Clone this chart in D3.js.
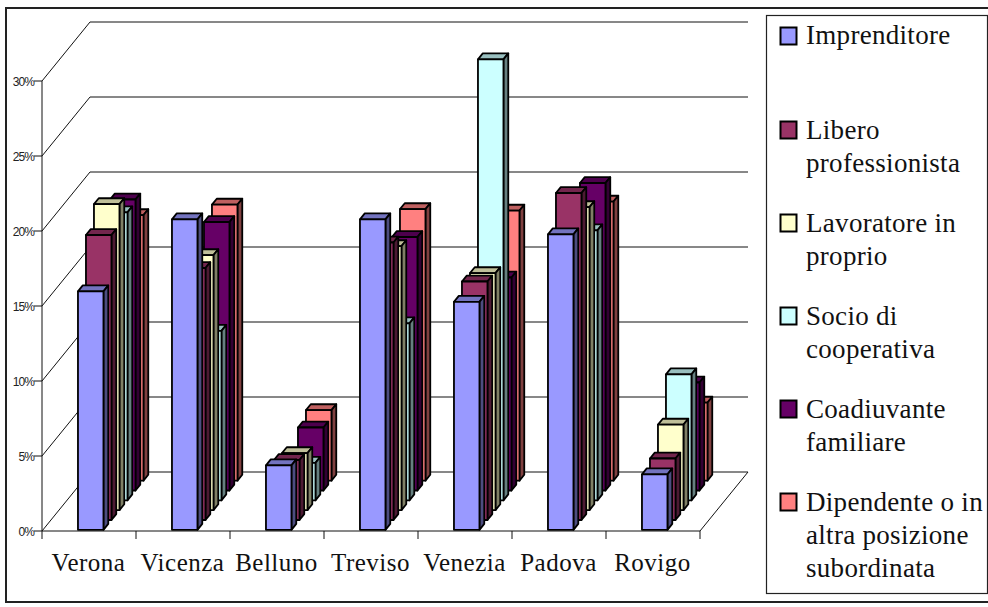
<!DOCTYPE html>
<html>
<head>
<meta charset="utf-8">
<script src="https://cdn.jsdelivr.net/npm/d3@7"></script>
<style>
  html, body { margin: 0; padding: 0; background: #fff; }
  svg { display: block; }
  text { font-family: "Liberation Serif", serif; fill: #111; }
  .tick-label { font-family: "Liberation Sans", sans-serif; font-size: 12px; letter-spacing: -0.9px; fill: #222; }
  .cat-label { font-size: 25px; letter-spacing: 0.5px; }
  .legend-label { font-size: 27px; letter-spacing: 0.3px; }
</style>
</head>
<body>
<svg id="chart" width="988" height="607"></svg>
<script>
// Province categories and employment-position series (percentages)
const categories = ["Verona", "Vicenza", "Belluno", "Treviso", "Venezia", "Padova", "Rovigo"];
const imprenditore = [15.9, 20.7, 4.3, 20.7, 15.2, 19.7, 3.7];
const libero       = [19.0, 16.8, 4.0, 18.5, 15.9, 21.8, 4.1];
const lavoratore   = [20.4, 17.0, 3.8, 17.6, 15.8, 20.2, 5.7];
const socio        = [19.2, 11.3, 2.5, 11.8, 29.4, 18.0, 8.4];
const coadiuvante  = [19.4, 17.9, 4.2, 16.9, 14.2, 20.5, 7.2];
const dipendente   = [17.7, 18.4, 4.7, 18.1, 18.0, 18.6, 5.2];
const seriesValues = [imprenditore, libero, lavoratore, socio, coadiuvante, dipendente];
const seriesColors = ["#9999FF", "#993366", "#FFFFCC", "#CCFFFF", "#660066", "#FF8080"];
const percentTicks = [0, 5, 10, 15, 20, 25, 30];
const legendLines = [
  ["Imprenditore"], ["Libero", "professionista"], ["Lavoratore in", "proprio"],
  ["Socio di", "cooperativa"], ["Coadiuvante", "familiare"], ["Dipendente o in", "altra posizione", "subordinata"]
];

const svg = d3.select("#chart");

// Outer frame; its right edge runs past the page
svg.append("rect").attr("x", 6).attr("y", 8).attr("width", 990).attr("height", 594)
  .attr("fill", "#fff").attr("stroke", "#222").attr("stroke-width", 2);

// Oblique projection: front plane from the scales, plus a depth fraction z in [0, 1]
const x = d3.scaleBand().domain(categories).range([42, 700]);
const y = d3.scaleLinear().domain([0, 30]).range([531, 81]);
const depthX = d3.scaleLinear().domain([0, 1]).range([0, 48]);
const depthY = d3.scaleLinear().domain([0, 1]).range([0, -59]);
const px = (xv, z) => xv + depthX(z);
const py = (v, z) => y(v) + depthY(z);
const pt = (xv, v, z) => [px(xv, z), py(v, z)];
const line = d3.line();
const xLeft = x.range()[0], xRight = x.range()[1];

// Back-wall gridlines and the diagonals running along the left wall
const grid = svg.append("g");
percentTicks.forEach(t => {
  grid.append("path").attr("d", line([pt(xLeft, t, 0), pt(xLeft, t, 1), pt(xRight, t, 1)]))
    .attr("fill", "none").attr("stroke", "#111").attr("stroke-width", 1);
});
grid.append("path").attr("d", line([pt(xRight, 0, 1), pt(xRight, 0, 0)]))
  .attr("fill", "none").attr("stroke", "#111").attr("stroke-width", 1);

// Bars: drawn back to front, category by category from the left
const barOffset = 35 / x.bandwidth();
const barWidth = 25.5;
const zStep = 1 / seriesValues.length;
const zStart = 0.02, zDepth = 0.1;

function shade(color, k) {
  const c = d3.rgb(color);
  return d3.rgb(c.r * k, c.g * k, c.b * k).formatHex();
}

categories.forEach((cat, ci) => {
  const g = svg.append("g");
  const x0 = x(cat) + x.bandwidth() * barOffset;
  for (let s = seriesValues.length - 1; s >= 0; s--) {
    const v = seriesValues[s][ci];
    const z0 = zStart + s * zStep, z1 = z0 + zDepth;
    const x1 = x0 + barWidth;
    const face = (pts, fill) => g.append("path").attr("d", line(pts) + "Z")
      .attr("fill", fill).attr("stroke", "#000").attr("stroke-width", 1.8).attr("stroke-linejoin", "round");
    face([pt(x0, v, z0), pt(x1, v, z0), pt(x1, v, z1), pt(x0, v, z1)], shade(seriesColors[s], 0.75));
    face([pt(x1, 0, z0), pt(x1, v, z0), pt(x1, v, z1), pt(x1, 0, z1)], shade(seriesColors[s], 0.5));
    face([pt(x0, 0, z0), pt(x1, 0, z0), pt(x1, v, z0), pt(x0, v, z0)], seriesColors[s]);
  }
});

// Front axes with tick marks
const axisG = svg.append("g");
axisG.append("path").attr("d", line([[xLeft, y(30)], [xLeft, y(0)], [xRight, y(0)]]))
  .attr("fill", "none").attr("stroke", "#111").attr("stroke-width", 1);
percentTicks.forEach(t => {
  axisG.append("line").attr("x1", xLeft - 8).attr("x2", xLeft).attr("y1", y(t)).attr("y2", y(t))
    .attr("stroke", "#111");
  axisG.append("text").attr("class", "tick-label").attr("x", xLeft - 8).attr("y", y(t) + 5)
    .attr("text-anchor", "end").text(t + "%");
});
categories.forEach(cat => {
  const tx = x(cat);
  axisG.append("line").attr("x1", tx).attr("x2", tx).attr("y1", y(0)).attr("y2", y(0) + 8).attr("stroke", "#111");
  axisG.append("text").attr("class", "cat-label").attr("x", tx + x.bandwidth() / 2 - 0.5).attr("y", 571)
    .attr("text-anchor", "middle").text(cat);
});
axisG.append("line").attr("x1", xRight).attr("x2", xRight).attr("y1", y(0)).attr("y2", y(0) + 8).attr("stroke", "#111");

// Legend
svg.append("rect").attr("x", 766.5).attr("y", 15.5).attr("width", 221).attr("height", 578)
  .attr("fill", "#fff").attr("stroke", "#222").attr("stroke-width", 1.2);
const legendY = [36, 130, 223, 316, 409, 502];
legendLines.forEach((lines, i) => {
  const g = svg.append("g");
  g.append("rect").attr("x", 780.5).attr("y", legendY[i] - 8.5).attr("width", 16).attr("height", 17)
    .attr("fill", seriesColors[i]).attr("stroke", "#000").attr("stroke-width", 2);
  lines.forEach((l, k) => {
    g.append("text").attr("class", "legend-label").attr("x", 806).attr("y", (i === 0 ? 44 : legendY[i] + 9) + k * 33).text(l);
  });
});
</script>
</body>
</html>
